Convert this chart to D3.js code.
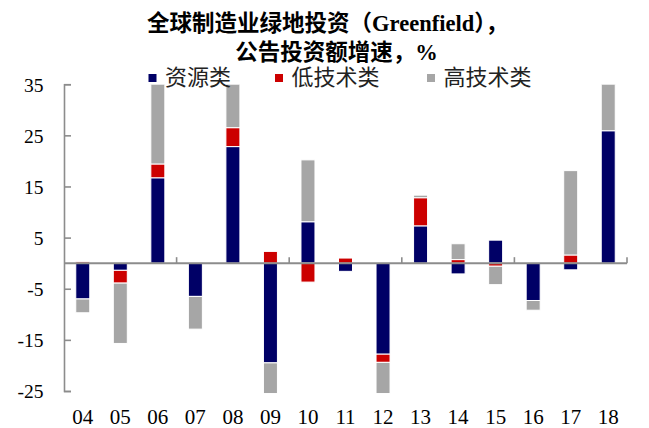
<!DOCTYPE html>
<html>
<head>
<meta charset="utf-8">
<script src="https://cdn.jsdelivr.net/npm/d3@7/dist/d3.min.js"></script>
<style>
  html, body { margin: 0; padding: 0; background: #fff; }
  svg { display: block; }
</style>
</head>
<body>
<svg id="chart" width="649" height="428"></svg>
<script>
// ---- data ----
const categories = ["04","05","06","07","08","09","10","11","12","13","14","15","16","17","18"];
const seriesNames = ["资源类", "低技术类", "高技术类"];
const resource = [-7.0, -1.4, 16.7, -6.5, 22.8, -19.5, 8.1, -1.6, -17.8, 7.3, -2.1, 4.5, -7.3, -1.3, 25.9];
const lowTech  = [0.3, -2.5, 2.7, 0.2, 3.7, 2.3, -3.7, 1.0, -1.6, 5.5, 0.7, -0.6, 0.0, 1.6, 0.0];
const highTech = [-2.7, -11.8, 15.6, -6.4, 8.5, -6.0, 12.1, 0.0, -6.1, 0.5, 3.1, -3.6, -1.9, 16.5, 9.1];
const yTicks = [35, 25, 15, 5, -5, -15, -25];
const titleLines = ["全球制造业绿地投资（Greenfield），", "公告投资额增速，%"];

const colors = ["#000066", "#CC0000", "#A6A6A6"];

// ---- build table ----
const keys = ["r", "l", "h"];
const table = categories.map((c, i) => ({cat: c, r: resource[i], l: lowTech[i], h: highTech[i]}));
const stacked = d3.stack().keys(keys).offset(d3.stackOffsetDiverging)(table);

const svg = d3.select("#chart");
const x = d3.scaleBand().domain(categories).range([64, 627]).padding(0);
const y = d3.scaleLinear().domain([-25, 35]).range([391, 84.2]);

const serif = "'Liberation Serif', 'Times New Roman', 'Noto Sans CJK SC', serif";
const cjk = "'Noto Sans CJK SC', sans-serif";

// clip to plot top
svg.append("clipPath").attr("id", "clip")
  .append("rect").attr("x", 60).attr("y", y(35)).attr("width", 580).attr("height", 330);

// bars
const barW = 14;
const gBars = svg.append("g").attr("clip-path", "url(#clip)");
stacked.forEach((s, si) => {
  gBars.selectAll(null).data(s).enter().append("rect")
    .attr("x", d => x(d.data.cat) + x.bandwidth() / 2 - barW / 2)
    .attr("y", d => y(Math.max(d[0], d[1])))
    .attr("width", barW)
    .attr("height", d => Math.abs(y(d[0]) - y(d[1])))
    .attr("fill", colors[si])
    .attr("stroke", "#fff")
    .attr("stroke-width", 1);
});

// y axis
const axisColor = "#8c8c8c";
const yAxis = d3.axisRight(y).tickValues(yTicks).tickSize(7).tickFormat("");
const gy = svg.append("g").attr("transform", "translate(64,0)").call(yAxis);
gy.select(".domain").attr("stroke", axisColor).attr("stroke-width", 1.6);
gy.selectAll(".tick line").attr("stroke", axisColor).attr("stroke-width", 1.6);

svg.append("g").selectAll("text").data(yTicks).enter().append("text")
  .attr("x", 43.5).attr("y", d => y(d)).attr("dy", "0.38em")
  .attr("text-anchor", "end")
  .attr("font-family", serif).attr("font-size", 19.5).attr("fill", "#000")
  .text(d => d);

// x axis at zero
const y0 = y(0);
svg.append("line").attr("x1", 64).attr("x2", 627).attr("y1", y0).attr("y2", y0)
  .attr("stroke", axisColor).attr("stroke-width", 2);
const tickIdx = d3.range(3, categories.length + 1, 3);
svg.append("g").selectAll("line").data(tickIdx).enter().append("line")
  .attr("x1", i => i < categories.length ? x(categories[i]) : x.range()[1])
  .attr("x2", i => i < categories.length ? x(categories[i]) : x.range()[1])
  .attr("y1", y0).attr("y2", y0 - 6)
  .attr("stroke", axisColor).attr("stroke-width", 1.6);

svg.append("g").selectAll("text").data(categories).enter().append("text")
  .attr("x", d => x(d) + x.bandwidth() / 2).attr("y", 423.5)
  .attr("text-anchor", "middle")
  .attr("font-family", serif).attr("font-size", 21).attr("fill", "#000")
  .text(d => d);

// title
svg.append("text").attr("x", 327.5).attr("y", 31)
  .attr("text-anchor", "middle").attr("font-family", serif)
  .attr("font-weight", "bold").attr("font-size", 22.5).attr("fill", "#000")
  .text(titleLines[0]);
svg.append("text").attr("x", 336.5).attr("y", 59.5)
  .attr("text-anchor", "middle").attr("font-family", serif)
  .attr("font-weight", "bold").attr("font-size", 22.5).attr("fill", "#000")
  .text(titleLines[1]);

// legend
const legendX = [148.5, 275, 427];
const gLeg = svg.append("g");
seriesNames.forEach((n, i) => {
  gLeg.append("rect").attr("x", legendX[i]).attr("y", 74).attr("width", 8).attr("height", 8)
    .attr("fill", colors[i]);
  gLeg.append("text").attr("x", legendX[i] + 16.5).attr("y", 85)
    .attr("font-family", cjk).attr("font-size", 22).attr("fill", "#222")
    .text(n);
});
</script>
</body>
</html>
